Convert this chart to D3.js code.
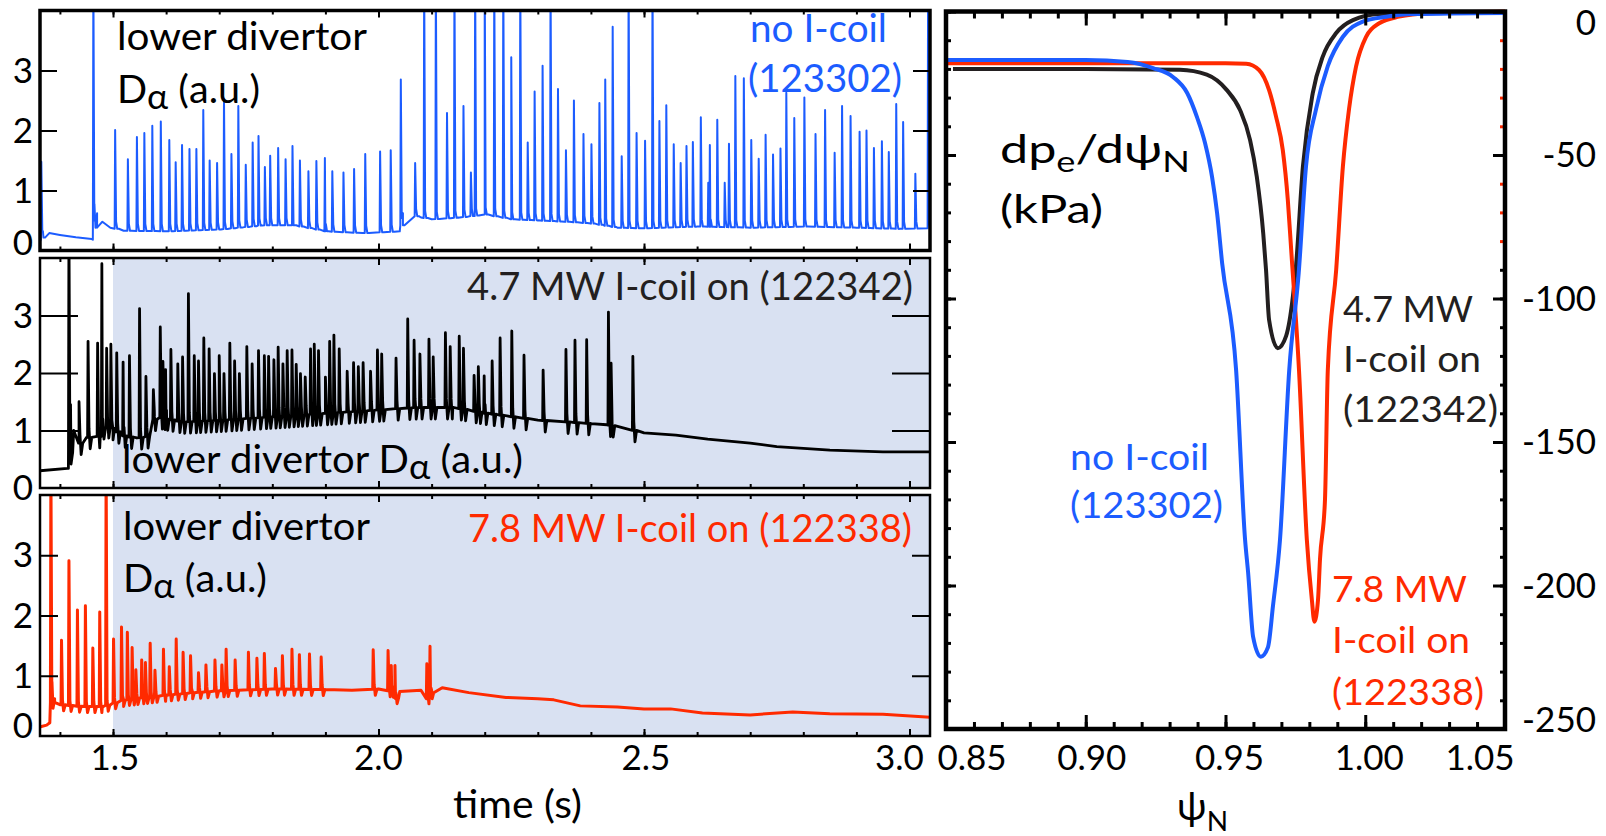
<!DOCTYPE html>
<html>
<head>
<meta charset="utf-8">
<script src="https://cdn.jsdelivr.net/npm/d3@7"></script>
<style>
  body { margin: 0; background: #fff; }
  svg { display: block; }
  text { font-family: Lato, "Noto Sans", "DejaVu Sans", sans-serif; }
</style>
</head>
<body>
<script>
// lower divertor D-alpha traces: slow level [t (s), a.u.] and ELM peaks [t, peak]
// peaks of 4.6 run off the top of the frame (clipped)
var noCoilLevel = [[1.362,0.14],[1.364,0.18],[1.368,0.32],[1.38,0.29],[1.40,0.26],[1.43,0.22],[1.46,0.19],[1.462,0.18],
  [1.465,0.78],[1.470,0.62],[1.480,0.48],[1.495,0.38],[1.52,0.33],[1.60,0.32],[1.70,0.35],[1.78,0.42],[1.84,0.42],
  [1.90,0.32],[1.97,0.29],[2.04,0.32],[2.046,0.62],[2.08,0.55],[2.10,0.52],[2.15,0.55],[2.20,0.60],[2.25,0.52],
  [2.30,0.50],[2.35,0.48],[2.40,0.45],[2.45,0.38],[2.50,0.37],[2.60,0.40],[2.70,0.38],[2.80,0.40],[2.90,0.38],
  [2.98,0.36],[3.04,0.37]];
var noCoilElms = [[1.365,1.48],[1.463,4.6],[1.504,2.01],[1.528,1.52],[1.545,1.89],[1.559,1.96],[1.574,2.08],[1.590,2.15],
  [1.606,1.84],[1.618,1.47],[1.630,1.76],[1.644,1.69],[1.657,1.69],[1.670,2.34],[1.682,1.50],[1.696,1.46],[1.709,2.53],
  [1.723,1.61],[1.736,2.41],[1.750,1.43],[1.763,1.80],[1.774,1.91],[1.786,1.39],[1.796,1.58],[1.811,1.71],[1.825,1.52],
  [1.838,1.74],[1.852,1.50],[1.868,1.32],[1.883,1.49],[1.899,1.54],[1.913,1.32],[1.934,1.30],[1.954,1.36],[1.975,1.61],
  [2.003,1.65],[2.023,1.67],[2.042,2.85],[2.069,1.46],[2.086,4.6],[2.108,4.6],[2.129,2.29],[2.143,4.6],[2.160,2.41],
  [2.174,1.30],[2.182,4.6],[2.200,4.6],[2.218,4.6],[2.235,4.6],[2.250,3.22],[2.267,4.6],[2.281,1.80],[2.294,2.65],
  [2.309,3.08],[2.324,4.6],[2.338,2.69],[2.353,1.67],[2.368,2.50],[2.386,1.94],[2.401,1.77],[2.416,2.46],[2.427,2.85],
  [2.441,3.73],[2.458,1.57],[2.471,4.6],[2.486,1.96],[2.502,1.83],[2.516,4.6],[2.529,2.16],[2.542,2.42],[2.556,1.77],
  [2.569,1.46],[2.580,1.74],[2.592,1.81],[2.607,2.22],[2.621,1.13],[2.624,1.76],[2.638,2.18],[2.652,1.13],[2.660,1.78],
  [2.672,2.91],[2.688,2.87],[2.702,1.84],[2.716,1.53],[2.729,1.93],[2.743,1.60],[2.757,1.70],[2.768,2.63],[2.783,2.21],
  [2.802,2.55],[2.823,1.94],[2.841,2.34],[2.859,1.63],[2.873,2.41],[2.889,2.24],[2.906,1.98],[2.919,2.00],[2.933,1.71],
  [2.948,1.82],[2.961,1.64],[2.975,2.44],[2.988,2.14],[3.011,1.28],[3.035,4.6]];

var mw47Level = [[1.362,0.30],[1.414,0.34],[1.416,0.34],[1.420,1.45],[1.426,1.0],[1.436,0.78],[1.45,0.88],[1.476,0.90],
  [1.480,1.10],[1.50,1.02],[1.52,0.90],[1.545,0.87],[1.565,0.90],[1.578,1.25],[1.60,1.20],[1.63,1.15],[1.70,1.18],
  [1.80,1.24],[1.90,1.30],[2.00,1.36],[2.07,1.40],[2.14,1.40],[2.20,1.30],[2.30,1.18],[2.40,1.12],[2.43,1.10],
  [2.50,0.96],[2.56,0.92],[2.62,0.85],[2.70,0.78],[2.75,0.72],[2.85,0.66],[2.95,0.63],[3.04,0.63]];
var mw47Elms = [[1.417,4.6],[1.436,1.50],[1.453,2.55],[1.471,2.52],[1.479,3.90],[1.488,2.43],[1.496,2.50],[1.507,2.35],
  [1.519,2.19],[1.531,2.30],[1.550,3.12],[1.562,1.94],[1.576,1.71],[1.589,2.80],[1.594,2.20],[1.599,2.06],[1.609,2.41],
  [1.622,2.16],[1.631,2.28],[1.642,3.38],[1.653,2.30],[1.661,2.21],[1.671,2.61],[1.681,2.42],[1.691,1.99],[1.700,2.30],
  [1.709,1.99],[1.720,2.52],[1.729,2.21],[1.738,1.99],[1.752,2.46],[1.762,2.16],[1.774,2.39],[1.785,2.30],[1.793,2.29],
  [1.803,2.23],[1.811,2.45],[1.820,2.16],[1.828,2.39],[1.837,2.40],[1.845,2.15],[1.853,1.99],[1.862,1.93],[1.872,2.42],
  [1.879,2.50],[1.887,2.39],[1.900,1.93],[1.908,2.55],[1.916,2.66],[1.926,2.42],[1.941,2.03],[1.953,2.18],[1.962,2.11],
  [1.971,2.18],[1.985,2.03],[1.998,2.40],[2.006,2.33],[2.033,2.26],[2.055,2.94],[2.067,2.57],[2.078,2.33],[2.095,2.59],
  [2.103,2.28],[2.126,2.70],[2.135,2.46],[2.152,2.64],[2.160,2.43],[2.180,1.96],[2.188,2.11],[2.199,1.95],[2.214,2.21],
  [2.229,2.61],[2.251,2.73],[2.274,2.31],[2.310,2.05],[2.353,2.41],[2.370,2.57],[2.392,2.58],[2.433,3.06],[2.438,2.17],
  [2.479,2.29]];

var mw78Level = [[1.362,0.15],[1.375,0.18],[1.381,0.22],[1.385,0.90],[1.39,0.62],[1.40,0.52],[1.44,0.49],[1.48,0.49],
  [1.50,0.55],[1.52,0.60],[1.55,0.63],[1.60,0.68],[1.65,0.72],[1.70,0.75],[1.80,0.78],[1.90,0.77],[1.95,0.76],
  [2.00,0.78],[2.025,0.74],[2.032,0.62],[2.04,0.74],[2.08,0.76],[2.09,0.62],[2.10,0.76],[2.12,0.80],[2.17,0.72],
  [2.24,0.64],[2.30,0.62],[2.33,0.60],[2.38,0.50],[2.45,0.48],[2.50,0.45],[2.55,0.45],[2.61,0.38],[2.70,0.35],
  [2.78,0.40],[2.85,0.37],[2.95,0.36],[3.04,0.31]];
var mw78Elms = [[1.383,4.6],[1.403,1.59],[1.417,2.91],[1.433,2.09],[1.448,2.16],[1.462,1.46],[1.475,2.06],[1.487,4.6],
  [1.501,1.61],[1.516,1.81],[1.527,1.72],[1.536,1.47],[1.543,1.10],[1.554,1.26],[1.561,1.22],[1.570,1.54],[1.579,1.09],
  [1.595,1.44],[1.606,1.15],[1.619,1.61],[1.632,1.39],[1.646,1.33],[1.661,1.05],[1.675,1.18],[1.692,1.26],[1.705,1.18],
  [1.713,1.44],[1.730,1.26],[1.755,1.39],[1.771,1.29],[1.785,1.37],[1.806,1.12],[1.819,1.33],[1.837,1.44],[1.851,1.35],
  [1.870,1.36],[1.892,1.31],[1.990,1.43],[2.018,1.42],[2.024,1.17],[2.031,1.17],[2.091,1.20],[2.097,1.49]];

// dpe/dpsiN profiles [psiN, kPa]
var profNoCoil = [[0.850,-16.9],[0.900,-16.9],[0.915,-17.6],[0.9241,-19.7],[0.9312,-22.8],[0.9363,-28.4],[0.9398,-36.8],
  [0.9427,-45.9],[0.9452,-57.7],[0.9470,-70.3],[0.9488,-87.7],[0.9538,-125],[0.9570,-184],[0.9581,-195.6],[0.9599,-218],
  [0.9626,-224.8],[0.9652,-221.5],[0.9670,-207],[0.9695,-184],[0.9728,-125],[0.9762,-91],[0.9788,-54],[0.9824,-34],
  [0.9866,-19],[0.9920,-8.8],[0.9991,-3.5],[1.0075,-1.8],[1.0170,-0.9],[1.050,-0.5]];
var prof47 = [[0.8525,-20],[0.900,-20],[0.9337,-20.3],[0.9433,-22],[0.9505,-27.4],[0.9552,-34.3],[0.9588,-44.8],
  [0.9612,-57.6],[0.9635,-77.3],[0.9645,-90],[0.9656,-107.5],[0.9687,-117.3],[0.9717,-113],[0.9741,-99.4],[0.9752,-89],
  [0.9777,-54],[0.9812,-28.5],[0.9848,-15.7],[0.9896,-7.5],[0.9956,-3],[1.0050,-0.9],[1.050,-0.3]];
var prof78 = [[0.850,-18],[0.950,-18],[0.9574,-18.2],[0.9620,-20.4],[0.9656,-27.4],[0.9681,-36.7],[0.9705,-48.3],
  [0.9723,-65.7],[0.9735,-83],[0.9763,-125],[0.9791,-184],[0.9809,-205],[0.9818,-212.6],[0.9831,-205],[0.9838,-191],
  [0.9856,-170],[0.9866,-125],[0.9896,-90],[0.9920,-54],[0.9942,-34],[0.9967,-19.2],[1.0003,-8.8],[1.0050,-4.1],
  [1.0121,-1.8],[1.0229,-0.6],[1.050,0]];

var timeTicks = [1.5, 2.0, 2.5, 3.0];
var timeLabels = ["1.5", "2.0", "2.5", "3.0"];
var daTicks = [0, 1, 2, 3];
var psiTicks = [0.85, 0.90, 0.95, 1.00, 1.05];
var psiLabels = ["0.85", "0.90", "0.95", "1.00", "1.05"];
var dpTicks = [0, -50, -100, -150, -200, -250];

var blue = "#1c5cff", red = "#ff2a00", dark = "#231f20", shade = "#d9e1f2";

var svg = d3.select("body").append("svg").attr("width", 1606).attr("height", 836);

// add text made of parts [string, baseline shift, size factor]
function addText(x, y, w, size, color, parts) {
  var t = svg.append("text").attr("x", x).attr("y", y).attr("font-size", size).attr("fill", color);
  var shift = 0;
  parts.forEach(function(p) {
    var s = t.append("tspan").text(p[0]);
    var dy = (p[1] || 0) - shift;
    if (dy) s.attr("dy", dy);
    shift = p[1] || 0;
    if (p[2]) s.attr("font-size", size * p[2]);
  });
  if (w) t.attr("textLength", w).attr("lengthAdjust", "spacingAndGlyphs");
  return t;
}

// slow level with each ELM drawn as a fast rise and short decay
function buildTrace(level, elms, tail, dip) {
  var lv = d3.scaleLinear().domain(level.map(d => d[0])).range(level.map(d => d[1])).clamp(true);
  var pts = level.slice();
  elms.forEach(function(s) {
    var f = lv(s[0]);
    pts.push([s[0] - 0.0009, f], [s[0], s[1]], [s[0] + 0.0018, f + tail], [s[0] + 0.004, f - dip], [s[0] + 0.007, f]);
  });
  pts.sort((a, b) => a[0] - b[0]);
  return pts;
}

// ---------------- left: time traces ----------------
var tx = d3.scaleLinear().domain([1.3625, 3.0386]).range([40, 930]);
var minorT = d3.range(1.4, 3.05, 0.1);

var panels = [
  {level: noCoilLevel, elms: noCoilElms, color: blue, lw: 2, y0: 250.5, y1: 10.5, frame: 3.5, tick: 17, shaded: false, zeroDy: -8, tail: 0.12, dip: 0},
  {level: mw47Level, elms: mw47Elms, color: "#000", lw: 2.8, y0: 488, y1: 258, frame: 2.5, tick: 38, shaded: true, zeroDy: 0, tail: 0.15, dip: 0.2},
  {level: mw78Level, elms: mw78Elms, color: red, lw: 3, y0: 736, y1: 495, frame: 2.5, tick: 18, shaded: true, zeroDy: -10, tail: 0.08, dip: 0.1}
];

panels.forEach(function(p, i) {
  var y = d3.scaleLinear().domain([0, 4]).range([p.y0, p.y1]);
  var g = svg.append("g");
  g.append("clipPath").attr("id", "clip" + i).append("rect")
    .attr("x", 40).attr("y", p.y1).attr("width", 890).attr("height", p.y0 - p.y1);
  if (p.shaded) {
    g.append("rect").attr("x", tx(1.5)).attr("y", p.y1).attr("width", 930 - tx(1.5)).attr("height", p.y0 - p.y1)
      .attr("fill", shade);
  }
  var line = d3.line().x(d => tx(d[0])).y(d => y(d[1]));
  g.append("path").datum(buildTrace(p.level, p.elms, p.tail, p.dip))
    .attr("clip-path", "url(#clip" + i + ")")
    .attr("fill", "none").attr("stroke", p.color).attr("stroke-width", p.lw)
    .attr("stroke-linejoin", "round").attr("d", line);

  // inward ticks
  var ax = [
    [d3.axisRight(y).tickValues([1, 2, 3]).tickSize(p.tick), "translate(40,0)"],
    [d3.axisLeft(y).tickValues([1, 2, 3]).tickSize(p.tick), "translate(930,0)"],
    [d3.axisBottom(tx).tickValues(timeTicks).tickSize(7), "translate(0," + p.y1 + ")"],
    [d3.axisBottom(tx).tickValues(minorT).tickSize(4), "translate(0," + p.y1 + ")"],
    [d3.axisTop(tx).tickValues(timeTicks).tickSize(7), "translate(0," + p.y0 + ")"],
    [d3.axisTop(tx).tickValues(minorT).tickSize(4), "translate(0," + p.y0 + ")"]
  ];
  ax.forEach(function(a) {
    var s = g.append("g").attr("transform", a[1]).call(a[0].tickFormat(""));
    s.select(".domain").remove();
    s.selectAll("line").attr("stroke", "#000").attr("stroke-width", 2);
  });

  g.append("rect").attr("x", 40).attr("y", p.y1).attr("width", 890).attr("height", p.y0 - p.y1)
    .attr("fill", "none").attr("stroke", "#000").attr("stroke-width", p.frame);

  daTicks.forEach(function(v) {
    g.append("text").attr("x", 33).attr("y", y(v) + 12 + (v === 0 ? p.zeroDy : 0))
      .attr("text-anchor", "end").attr("font-size", 35).attr("fill", "#000").text(v);
  });
});

var tdx = [2, 0, 2, -10];
timeTicks.forEach(function(t, i) {
  svg.append("text").attr("x", tx(t) + tdx[i]).attr("y", 770).attr("text-anchor", "middle")
    .attr("font-size", 35).text(timeLabels[i]);
});
addText(453, 818, 129, 38, "#000", [["time (s)"]]);

addText(117, 50, 250, 39, "#000", [["lower divertor"]]);
addText(117, 103, 143, 39, "#000", [["D"], ["\u03b1", 6, 0.9], [" (a.u.)"]]);
addText(750, 42, 137, 38, blue, [["no I-coil"]]);
addText(748, 92, 154, 38, blue, [["(123302)"]]);
addText(467, 300, 446, 38, dark, [["4.7 MW I-coil on (122342)"]]);
addText(122, 473, 401, 39, "#000", [["lower divertor D"], ["\u03b1", 6, 0.9], [" (a.u.)"]]);
addText(123, 540, 247, 39, "#000", [["lower divertor"]]);
addText(123, 592, 144, 39, "#000", [["D"], ["\u03b1", 6, 0.9], [" (a.u.)"]]);
addText(468, 542, 444, 38, red, [["7.8 MW I-coil on (122338)"]]);

// ---------------- right: dpe/dpsiN profiles ----------------
var px = d3.scaleLinear().domain([0.85, 1.05]).range([946, 1505]);
var py = d3.scaleLinear().domain([-250, 0]).range([729, 11.5]);
var rg = svg.append("g");
var pline = d3.line().x(d => px(d[0])).y(d => py(d[1])).curve(d3.curveMonotoneX);

[[prof47, dark], [prof78, red], [profNoCoil, blue]].forEach(function(c) {
  rg.append("path").datum(c[0]).attr("fill", "none").attr("stroke", c[1]).attr("stroke-width", 4)
    .attr("stroke-linejoin", "round").attr("d", pline);
});

var psiMinor = px.ticks(20), dpMinor = py.ticks(25);
var rax = [
  [d3.axisBottom(px).tickValues(psiTicks).tickSize(14), "translate(0,11.5)"],
  [d3.axisBottom(px).tickValues(psiMinor).tickSize(7), "translate(0,11.5)"],
  [d3.axisTop(px).tickValues(psiTicks).tickSize(14), "translate(0,729)"],
  [d3.axisTop(px).tickValues(psiMinor).tickSize(7), "translate(0,729)"],
  [d3.axisRight(py).tickValues(dpTicks).tickSize(10), "translate(946,0)"],
  [d3.axisRight(py).tickValues(dpMinor).tickSize(5), "translate(946,0)"],
  [d3.axisLeft(py).tickValues(dpTicks).tickSize(12), "translate(1505,0)"],
  [d3.axisLeft(py).tickValues(dpMinor).tickSize(5), "translate(1505,0)", true]
];
rax.forEach(function(a) {
  var s = rg.append("g").attr("transform", a[1]).call(a[0].tickFormat(""));
  s.select(".domain").remove();
  s.selectAll("line").attr("stroke-width", 3)
    .attr("stroke", d => (a[2] && d < 0 && d >= -80 && d % 50 !== 0) ? red : "#000");
});
rg.append("rect").attr("x", 946).attr("y", 11.5).attr("width", 559).attr("height", 717.5)
  .attr("fill", "none").attr("stroke", "#000").attr("stroke-width", 4.5);

var pdx = [26, 6, 4, 4, -25];
psiTicks.forEach(function(v, i) {
  svg.append("text").attr("x", px(v) + pdx[i]).attr("y", 770).attr("text-anchor", "middle")
    .attr("font-size", 35).text(psiLabels[i]);
});
dpTicks.forEach(function(v) {
  var yy = v === 0 ? 35 : (v === -250 ? 732 : py(v) + 12);
  svg.append("text").attr("x", 1596).attr("y", yy).attr("text-anchor", "end").attr("font-size", 35).text(v);
});

addText(1000, 163, 190, 39, "#000", [["dp"], ["e", 9, 0.72], ["/d\u03c8"], ["N", 9, 0.72]]);
addText(1000, 223, 103, 39, "#000", [["(kPa)"]]);
addText(1343, 322, 130, 36, dark, [["4.7 MW"]]);
addText(1343, 372, 138, 36, dark, [["I-coil on"]]);
addText(1343, 422, 155, 36, dark, [["(122342)"]]);
addText(1070, 470, 139, 37, blue, [["no I-coil"]]);
addText(1070, 518, 153, 37, blue, [["(123302)"]]);
addText(1332, 602, 135, 36, red, [["7.8 MW"]]);
addText(1332, 653, 138, 36, red, [["I-coil on"]]);
addText(1332, 705, 152, 36, red, [["(122338)"]]);
addText(1177, 820, 51, 38, "#000", [["\u03c8"], ["N", 11, 0.72]]);
</script>
</body>
</html>
